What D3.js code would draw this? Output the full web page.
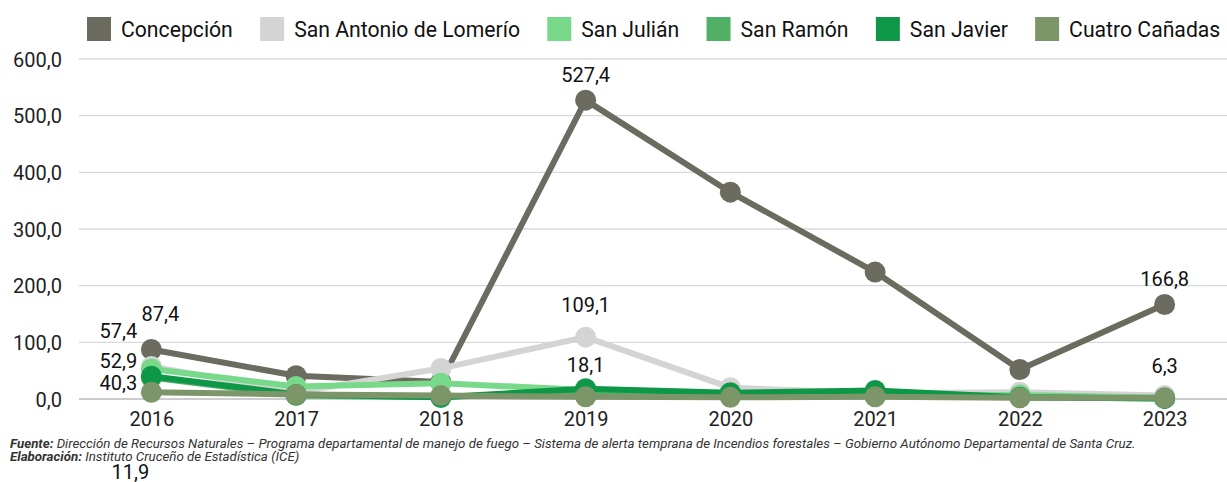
<!DOCTYPE html>
<html>
<head>
<meta charset="utf-8">
<title>Incendios por municipio</title>
<script src="https://cdn.jsdelivr.net/npm/d3@7"></script>
<style>
  body { margin: 0; background: #fff; }
  svg { font-family: Roboto, "Noto Sans", sans-serif; }
</style>
</head>
<body>
<div id="chart"></div>
<script>
// datos
var years = ["2016", "2017", "2018", "2019", "2020", "2021", "2022", "2023"];
var seriesNames = ["Concepción", "San Antonio de Lomerío", "San Julián", "San Ramón", "San Javier", "Cuatro Cañadas"];
var concepcion   = [87.4, 41, 30, 527.4, 365, 224, 52, 166.8];
var sanAntonio   = [57.4, 12, 54, 109.1, 20, 10, 12, 6.3];
var sanJulian    = [52.9, 22, 28, 16, 8, 6, 7, 2];
var sanRamon     = [38, 6, 3, 14, 9, 12, 3, 1];
var sanJavier    = [40.3, 8, 3, 18.1, 11, 15, 3, 1];
var cuatroCanadas = [11.9, 8, 6, 4, 3, 4, 2, 2];
var yTicks = [0, 100, 200, 300, 400, 500, 600];

var colors = ["#6b6b5f", "#d4d4d4", "#78d98b", "#51b065", "#0f9748", "#7c9669"];
var allValues = [concepcion, sanAntonio, sanJulian, sanRamon, sanJavier, cuatroCanadas];

// etiquetas visibles: [serie, año, dx, dy]
var labelOffsets = [
  [0, "2016", 9, -28],
  [1, "2016", -33, -28],
  [2, "2016", -33, -1],
  [4, "2016", -33, 14],
  [5, "2016", -21, 87],
  [0, "2019", 0, -18],
  [1, "2019", 0, -25],
  [4, "2019", 0, -17],
  [0, "2023", 0, -18],
  [1, "2023", 0, -22]
];

var W = 1227, H = 482;
var svg = d3.select("#chart").append("svg").attr("width", W).attr("height", H);

var x = d3.scalePoint().domain(years).range([79, 1237]).padding(0.5);
var y = d3.scaleLinear().domain([0, 600]).range([399, 59]);

var es = d3.formatLocale({decimal: ",", thousands: ".", grouping: [3], currency: ["", ""]});
var fmt = es.format(".1f");

// grilla
svg.append("g").selectAll("line")
  .data(yTicks.filter(function (d) { return d > 0; }))
  .enter().append("line")
  .attr("x1", 79).attr("x2", W)
  .attr("y1", function (d) { return y(d); })
  .attr("y2", function (d) { return y(d); })
  .attr("stroke", "#d9d9d9").attr("stroke-width", 1.3);

svg.append("line")
  .attr("x1", 79).attr("x2", W)
  .attr("y1", y(0)).attr("y2", y(0))
  .attr("stroke", "#999").attr("stroke-width", 1.2);

// eje y
var yAxis = d3.axisLeft(y).tickValues(yTicks).tickFormat(fmt).tickSize(0).tickPadding(0);
var gy = svg.append("g").attr("transform", "translate(62,0)").call(yAxis);
gy.select(".domain").remove();
gy.selectAll("text").attr("font-size", 20).attr("fill", "#222").attr("font-family", "Roboto").attr("dy", "0.35em");

// eje x
var xAxis = d3.axisBottom(x).tickSize(0).tickPadding(0);
var gx = svg.append("g").attr("transform", "translate(0,411)").call(xAxis);
gx.select(".domain").remove();
gx.selectAll("text").attr("font-size", 20).attr("fill", "#222").attr("font-family", "Roboto").attr("dy", "0.76em");

// series
var line = d3.line()
  .x(function (d, i) { return x(years[i]); })
  .y(function (d) { return y(d); });

allValues.forEach(function (vals, s) {
  var g = svg.append("g");
  g.append("path")
    .attr("d", line(vals))
    .attr("fill", "none")
    .attr("stroke", colors[s])
    .attr("stroke-width", 6)
    .attr("stroke-linejoin", "round");
  g.selectAll("circle")
    .data(vals)
    .enter().append("circle")
    .attr("cx", function (d, i) { return x(years[i]); })
    .attr("cy", function (d) { return y(d); })
    .attr("r", 10.5)
    .attr("fill", colors[s]);
});

// etiquetas de datos
svg.append("g").selectAll("text")
  .data(labelOffsets)
  .enter().append("text")
  .attr("x", function (d) { return x(d[1]) + d[2]; })
  .attr("y", function (d) { return y(allValues[d[0]][years.indexOf(d[1])]) + d[3]; })
  .attr("text-anchor", "middle")
  .attr("font-size", 20)
  .attr("fill", "#111")
  .text(function (d) { return fmt(allValues[d[0]][years.indexOf(d[1])]); });

// leyenda
var legend = svg.append("g").attr("transform", "translate(87,17)");
var lx = 0;
seriesNames.forEach(function (name, i) {
  var item = legend.append("g").attr("transform", "translate(" + lx + ",0)");
  item.append("rect").attr("width", 24).attr("height", 24).attr("fill", colors[i]);
  var t = item.append("text")
    .attr("x", 34).attr("y", 19.5)
    .attr("font-size", 21.2).attr("fill", "#111")
    .text(name);
  lx += 34 + t.node().getComputedTextLength() + 27.3;
});

// nota
var note = svg.append("g").attr("font-size", 13.3).attr("font-style", "italic").attr("fill", "#333");
var n1 = note.append("text").attr("x", 10).attr("y", 448);
n1.append("tspan").attr("font-weight", "bold").text("Fuente:");
n1.append("tspan").text(" Dirección de Recursos Naturales – Programa departamental de manejo de fuego – Sistema de alerta temprana de Incendios forestales – Gobierno Autónomo Departamental de Santa Cruz.");
var n2 = note.append("text").attr("x", 10).attr("y", 461);
n2.append("tspan").attr("font-weight", "bold").text("Elaboración:");
n2.append("tspan").text(" Instituto Cruceño de Estadística (ICE)");
</script>
</body>
</html>
